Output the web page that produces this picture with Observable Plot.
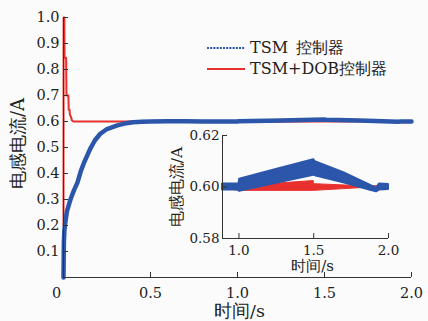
<!DOCTYPE html>
<html><head><meta charset="utf-8">
<script src="https://cdn.jsdelivr.net/npm/d3@7"></script>
<script src="https://cdn.jsdelivr.net/npm/@observablehq/plot@0.6"></script>
<style>
body{margin:0;background:#fbfbfb;}
#wrap{position:relative;width:428px;height:321px;overflow:hidden;}
#main,#inset{position:absolute;left:0;top:0;}
#inset{left:150px;top:120px;}
#legend{position:absolute;left:207px;top:37px;font-size:16px;font-family:'DejaVu Serif';color:#222;line-height:21px;}
#legend .row{display:flex;align-items:center;height:21px;white-space:pre;}
#legend svg{margin-right:5px;}
</style>
</head><body>
<div id="wrap"><div id="main"></div><div id="inset"></div><div id="legend"></div></div>
<script>
// ---- data ----
const seriesNames = ["TSM\u2002控制器", "TSM+DOB控制器"];
const BLUE = "#2b56aa", RED = "#e8302e";

// transient (main plot)
const redTransT = [0, 0.0005, 0.005, 0.006, 0.015, 0.017, 0.028, 0.030, 0.035, 0.037, 0.042, 0.048, 0.057, 0.2, 0.5, 0.8];
const redTransV = [0.2, 1.0, 1.0, 0.845, 0.845, 0.70, 0.70, 0.645, 0.645, 0.625, 0.62, 0.605, 0.600, 0.600, 0.600, 0.600];
const blueTransT = [0, 0.002, 0.005, 0.01, 0.02, 0.04, 0.06, 0.08, 0.10, 0.12, 0.155, 0.18, 0.21, 0.25, 0.31, 0.35, 0.40, 0.45, 0.5, 0.6, 0.7, 0.8];
const blueTransV = [0, 0.13, 0.18, 0.21, 0.255, 0.30, 0.335, 0.365, 0.41, 0.445, 0.497, 0.527, 0.552, 0.571, 0.585, 0.592, 0.597, 0.599, 0.600, 0.601, 0.6005, 0.600];

// steady state band (inset), lower / upper envelope
const blueSteadyT = [0.89, 1.0, 1.005, 1.25, 1.5, 1.51, 1.7, 1.88, 1.92, 1.94, 2.0];
const blueLo = [0.5988, 0.5988, 0.5983, 0.6014, 0.6046, 0.6044, 0.6016, 0.5987, 0.5981, 0.5988, 0.5990];
const blueHi = [0.6012, 0.6012, 0.6030, 0.6068, 0.6106, 0.6098, 0.6056, 0.6006, 0.5995, 0.6012, 0.6010];
const redSteadyT = [0.89, 1.0, 1.5, 1.501, 1.83, 2.0];
const redLo = [0.5995, 0.5985, 0.5985, 0.5985, 0.5996, 0.5996];
const redHi = [0.6005, 0.6003, 0.6023, 0.6011, 0.6003, 0.6003];

const xTicksMain = [0.5, 1.0, 1.5, 2.0];
const yTicksMain = [0.1, 0.2, 0.3, 0.4, 0.5, 0.6, 0.7, 0.8, 0.9, 1.0];
const xTicksInset = [1.0, 1.5, 2.0];
const yTicksInset = [0.58, 0.60, 0.62];

// ---- tables ----
const blueBand = blueSteadyT.map((t, i) => ({t, lo: blueLo[i], hi: blueHi[i]}));
const redBand = redSteadyT.map((t, i) => ({t, lo: redLo[i], hi: redHi[i]}));
const blueMain = blueTransT.map((t, i) => ({t, v: blueTransV[i]}))
  .concat(blueBand.map(d => ({t: d.t, v: (d.lo + d.hi) / 2})));
const redMain = redTransT.map((t, i) => ({t, v: redTransV[i]}))
  .concat(redBand.map(d => ({t: d.t, v: (d.lo + d.hi) / 2})));

const SERIF = "DejaVu Serif";
const AX = "#333";

// ---- main ----
{
  const W = 428, H = 321, mL = 63, mT = 17, mB = 44, mR = 17;
  const iW = W - mL - mR, iH = H - mT - mB;
  const p = Plot.plot({
    width: W, height: H, marginLeft: mL, marginTop: mT, marginBottom: mB, marginRight: mR,
    style: {background: "transparent", fontFamily: SERIF, fontSize: "14.5px", color: "#222"},
    x: {domain: [0, 2]},
    y: {domain: [0, 1]},
    marks: [
      Plot.line(redMain, {x: "t", y: "v", stroke: RED, strokeWidth: 2}),
      Plot.line(blueMain, {x: "t", y: "v", stroke: BLUE, strokeWidth: 4.5}),
      Plot.ruleX([0], {stroke: AX}),
      Plot.ruleY([0], {stroke: AX}),
      Plot.ruleX(xTicksMain, {x: d => d, insetTop: iH - 5, stroke: AX}),
      Plot.ruleY(yTicksMain, {y: d => d, insetRight: iW - 5, stroke: AX}),
      Plot.axisX(xTicksMain, {tickSize: 0, tickPadding: 10, tickFormat: d => d.toFixed(1), label: null, fontSize: 14.5, fontFamily: SERIF}),
      Plot.axisX([0], {tickSize: 0, tickPadding: 10, dx: -7, tickFormat: () => "0", label: null, fontSize: 14.5, fontFamily: SERIF}),
      Plot.axisY(yTicksMain, {tickSize: 0, tickPadding: 4, tickFormat: d => d.toFixed(1), label: null, fontSize: 14.5, fontFamily: SERIF}),
      Plot.text(["时间/s"], {frameAnchor: "bottom", text: d => d, textAnchor: "middle", lineAnchor: "middle", dy: 34, dx: 2, fontSize: 17.5, fill: "#222", fontFamily: SERIF}),
      Plot.text(["电感电流/A"], {frameAnchor: "left", text: d => d, textAnchor: "middle", rotate: -90, lineAnchor: "middle", dx: -45, dy: -4, fontSize: 18, fill: "#222", fontFamily: SERIF})
    ]
  });
  document.getElementById("main").appendChild(p);
}

// ---- inset ----
{
  const W = 260, H = 160, mL = 72, mT = 15, mB = 42, mR = 22;
  const iW = W - mL - mR, iH = H - mT - mB;
  const p = Plot.plot({
    width: W, height: H, marginLeft: mL, marginTop: mT, marginBottom: mB, marginRight: mR,
    style: {background: "transparent", fontFamily: SERIF, fontSize: "13px", color: "#222", overflow: "visible"},
    x: {domain: [0.89, 2.0]},
    y: {domain: [0.58, 0.62]},
    marks: [
      Plot.areaY(redBand, {x: "t", y1: "lo", y2: "hi", fill: RED, stroke: RED, strokeWidth: 1}),
      Plot.areaY(blueBand, {x: "t", y1: "lo", y2: "hi", fill: BLUE, stroke: BLUE, strokeWidth: 2, strokeLinejoin: "round"}),
      Plot.ruleX([0.89], {stroke: AX}),
      Plot.ruleY([0.58], {stroke: AX}),
      Plot.ruleX(xTicksInset, {x: d => d, insetTop: iH - 5, stroke: AX}),
      Plot.ruleY(yTicksInset, {y: d => d, insetRight: iW - 5, stroke: AX}),
      Plot.axisX(xTicksInset, {tickSize: 0, tickPadding: 7, tickFormat: d => d.toFixed(1), label: null, fontSize: 13.5, fontFamily: SERIF}),
      Plot.axisY(yTicksInset, {tickSize: 0, tickPadding: 3, tickFormat: d => d.toFixed(2), label: null, fontSize: 13.5, fontFamily: SERIF}),
      Plot.text(["时间/s"], {frameAnchor: "bottom", text: d => d, textAnchor: "middle", lineAnchor: "middle", dy: 28, dx: 7, fontSize: 15, fill: "#222", fontFamily: SERIF}),
      Plot.text(["电感电流/A"], {frameAnchor: "left", text: d => d, textAnchor: "middle", rotate: -90, lineAnchor: "middle", dx: -45, fontSize: 15.5, fill: "#222", fontFamily: SERIF})
    ]
  });
  document.getElementById("inset").appendChild(p);
}

// ---- legend ----
{
  const lg = document.getElementById("legend");
  const styles = [{c: BLUE, dash: "2,1.2", w: 2}, {c: RED, dash: null, w: 2}];
  seriesNames.forEach((name, i) => {
    const row = document.createElement("div");
    row.className = "row";
    const s = styles[i];
    row.innerHTML = `<svg width="38" height="21"><line x1="0" x2="38" y1="11" y2="11" stroke="${s.c}" stroke-width="${s.w}" ${s.dash ? `stroke-dasharray="${s.dash}"` : ""}/></svg><span>${name}</span>`;
    lg.appendChild(row);
  });
}
</script>
</body></html>
